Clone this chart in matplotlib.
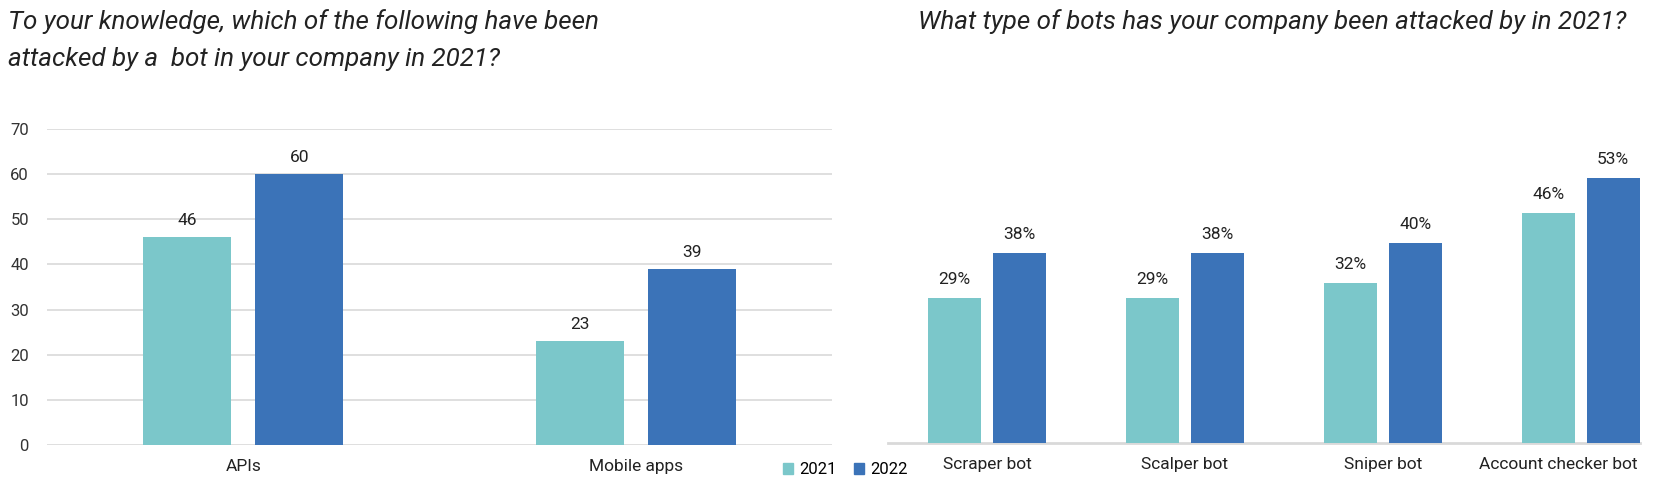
import matplotlib.pyplot as plt
import matplotlib.transforms as mtransforms
import numpy as np
from matplotlib.patches import Patch

plt.rcParams['font.family'] = ['Roboto', 'DejaVu Sans']

# left chart
targets = ["APIs", "Mobile apps"]
targets_2021 = [46, 23]
targets_2022 = [60, 39]

# right chart
bot_types = ["Scraper bot", "Scalper bot", "Sniper bot", "Account checker bot"]
bots_2021 = [29, 29, 32, 46]
bots_2022 = [38, 38, 40, 53]

years = ["2021", "2022"]
teal = "#7BC7CA"
blue = "#3B73B8"
grid = "#D9D9D9"
txt = "#222222"

fig = plt.figure(figsize=(16.72, 4.87), dpi=100)

# ---- left ----
ax1 = fig.add_axes([47/1672, 1-445/487, (832-47)/1672, 316/487])
x = np.arange(len(targets))
w = 0.224
off = 0.1427
b1 = ax1.bar(x - off, targets_2021, w, color=teal, zorder=3)
b2 = ax1.bar(x + off, targets_2022, w, color=blue, zorder=3)
for bars in (b1, b2):
    for r in bars:
        ax1.annotate(f"{r.get_height():g}", (r.get_x() + r.get_width()/2, r.get_height()),
                     xytext=(0, 12), textcoords="offset points", ha="center", va="center",
                     fontsize=12.5, color=txt)
ax1.set_xlim(-0.5, 1.5)
ax1.set_ylim(0, 70)
ax1.set_yticks(range(0, 71, 10))
ax1.set_xticks(x)
ax1.set_xticklabels(targets, fontsize=12.5, color=txt)
ax1.tick_params(axis="y", length=0, pad=13, labelsize=12, labelcolor="#333333")
ax1.tick_params(axis="x", length=0, pad=10)
ax1.grid(axis="y", color=grid, lw=1.2, zorder=0)
for s in ax1.spines.values():
    s.set_visible(False)

ax1.legend(handles=[Patch(color=teal, label=years[0]), Patch(color=blue, label=years[1])],
           loc="center left", bbox_to_anchor=(783/1672, 1-470/487), bbox_transform=fig.transFigure,
           ncol=2, frameon=False, fontsize=12, handlelength=0.6, handleheight=0.6,
           handletextpad=0.4, columnspacing=1.0, borderpad=0, borderaxespad=0)

# ---- right ----
ax2 = fig.add_axes([888/1672, 1-443/487, (1640-888)/1672, 300/487])
x2 = np.arange(len(bot_types))
w2 = 0.268
off2 = 0.164
c1 = ax2.bar(x2 - off2, bots_2021, w2, color=teal, zorder=3)
c2 = ax2.bar(x2 + off2, bots_2022, w2, color=blue, zorder=3)
for bars in (c1, c2):
    for r in bars:
        ax2.annotate(f"{r.get_height():g}%", (r.get_x() + r.get_width()/2, r.get_height()),
                     xytext=(0, 13), textcoords="offset points", ha="center", va="center",
                     fontsize=12.5, color=txt)
ax2.set_xlim(-0.5, 3.3)
ax2.set_ylim(0, 60)
ax2.set_yticks([])
ax2.set_xticks(x2)
ax2.set_xticklabels(bot_types, fontsize=12.5, color=txt)
ax2.tick_params(axis="x", length=0, pad=10)
# last label is pulled in so it stays inside the chart
last = ax2.get_xticklabels()[-1]
last.set_transform(last.get_transform() + mtransforms.ScaledTranslation(-22/100, 0, fig.dpi_scale_trans))
for s in ax2.spines.values():
    s.set_visible(False)
ax2.spines["bottom"].set_visible(True)
ax2.spines["bottom"].set_color(grid)
ax2.spines["bottom"].set_linewidth(2)

# titles
fig.text(8/1672, 1-22/487, "To your knowledge, which of the following have been",
         fontsize=18.7, style="italic", color=txt, va="center", ha="left")
fig.text(8/1672, 1-59/487, "attacked by a  bot in your company in 2021?",
         fontsize=18.7, style="italic", color=txt, va="center", ha="left")
fig.text(918/1672, 1-22/487, "What type of bots has your company been attacked by in 2021?",
         fontsize=18.7, style="italic", color=txt, va="center", ha="left")

fig.savefig("out.png", dpi=100)
